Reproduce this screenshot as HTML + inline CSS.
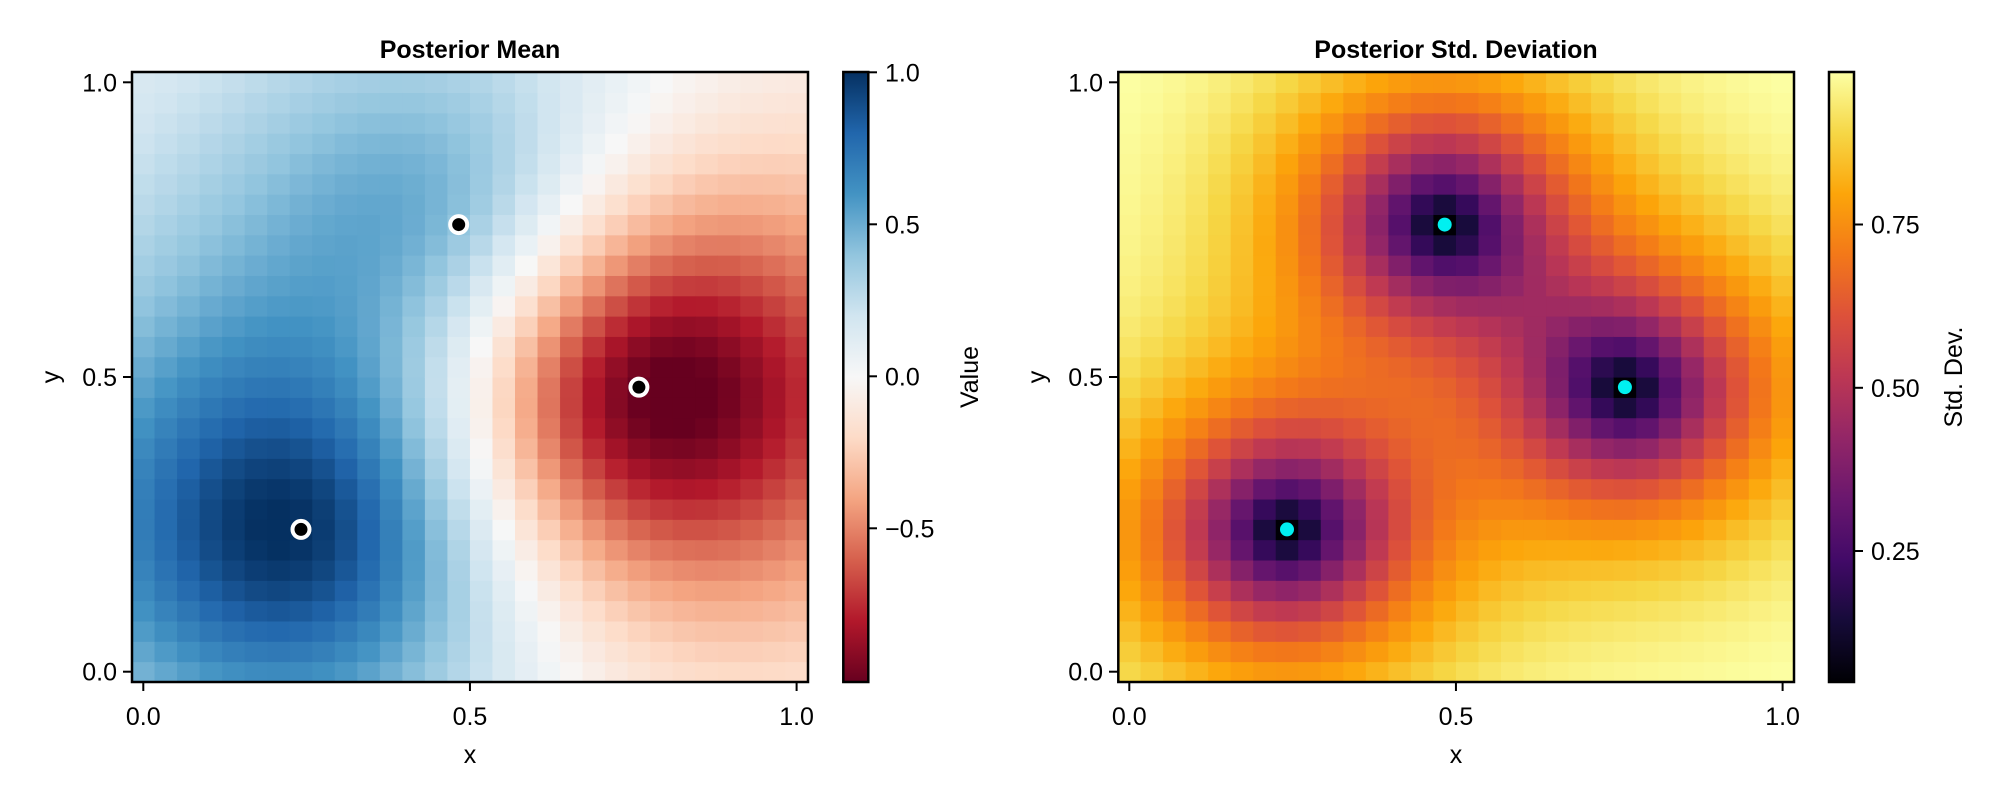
<!DOCTYPE html>
<html><head><meta charset="utf-8"><style>
html,body{margin:0;padding:0;background:#fff;}
svg text{font-family:"Liberation Sans",Arial,sans-serif;fill:#000;}
</style></head><body>
<svg id="s" xmlns="http://www.w3.org/2000/svg" width="2000" height="800" viewBox="0 0 2000 800">
<defs>
<linearGradient id="rdbu" x1="0" y1="1" x2="0" y2="0">
<stop offset="0" stop-color="#67001f"/><stop offset="0.1" stop-color="#b2182b"/><stop offset="0.2" stop-color="#d6604d"/><stop offset="0.3" stop-color="#f4a582"/><stop offset="0.4" stop-color="#fddbc7"/><stop offset="0.5" stop-color="#f7f7f7"/><stop offset="0.6" stop-color="#d1e5f0"/><stop offset="0.7" stop-color="#92c5de"/><stop offset="0.8" stop-color="#4393c3"/><stop offset="0.9" stop-color="#2166ac"/><stop offset="1" stop-color="#053061"/>
</linearGradient>
<linearGradient id="inf" x1="0" y1="1" x2="0" y2="0">
<stop offset="0" stop-color="#000004"/><stop offset="0.1" stop-color="#160b39"/><stop offset="0.2" stop-color="#420a68"/><stop offset="0.3" stop-color="#6a176e"/><stop offset="0.4" stop-color="#932667"/><stop offset="0.5" stop-color="#bc3754"/><stop offset="0.6" stop-color="#dd513a"/><stop offset="0.7" stop-color="#f37819"/><stop offset="0.8" stop-color="#fca50a"/><stop offset="0.9" stop-color="#f6d746"/><stop offset="1" stop-color="#fcffa4"/>
</linearGradient>
</defs>
<g id="cells"></g>
<rect x="843.3" y="72" width="25" height="610" fill="url(#rdbu)" stroke="#000" stroke-width="2.5"/>
<rect x="1829" y="72" width="25" height="610" fill="url(#inf)" stroke="#000" stroke-width="2.5"/>
<text x="470" y="58" font-size="25" font-weight="bold" text-anchor="middle">Posterior Mean</text>
<text x="1456" y="58" font-size="25" font-weight="bold" text-anchor="middle">Posterior Std. Deviation</text>
<text x="470" y="763" font-size="25" text-anchor="middle">x</text>
<text x="1456" y="763" font-size="25" text-anchor="middle">x</text>
<text transform="translate(59,377) rotate(-90)" font-size="25" text-anchor="middle">y</text>
<text transform="translate(1045,377) rotate(-90)" font-size="25" text-anchor="middle">y</text>
<text transform="translate(978,377) rotate(-90)" font-size="25" text-anchor="middle">Value</text>
<text transform="translate(1962,377) rotate(-90)" font-size="25" text-anchor="middle">Std. Dev.</text>
<g id="ticks" stroke="#000" stroke-width="2"></g>
<g id="labels" font-size="25"></g>
</svg>
<script>
(function(){
var NS="http://www.w3.org/2000/svg";
function el(t,a,p){var e=document.createElementNS(NS,t);for(var k in a)e.setAttribute(k,a[k]);(p||document.getElementById('s')).appendChild(e);return e;}
function hex(h){return [parseInt(h.substr(1,2),16),parseInt(h.substr(3,2),16),parseInt(h.substr(5,2),16)];}
var rdbu=["#67001f","#b2182b","#d6604d","#f4a582","#fddbc7","#f7f7f7","#d1e5f0","#92c5de","#4393c3","#2166ac","#053061"].map(hex);
var inf=["#000004","#160b39","#420a68","#6a176e","#932667","#bc3754","#dd513a","#f37819","#fca50a","#f6d746","#fcffa4"].map(hex);
function cmap(c,t){t=Math.max(0,Math.min(1,t));var f=t*10,i=Math.min(9,Math.floor(f)),r=f-i;var a=c[i],b=c[i+1];
return "rgb("+Math.round(a[0]+(b[0]-a[0])*r)+","+Math.round(a[1]+(b[1]-a[1])*r)+","+Math.round(a[2]+(b[2]-a[2])*r)+")";}
var P=[[7/29,7/29],[14/29,22/29],[22/29,14/29]],Y=[1,0.4,-1],l=0.3,sn=0.0025;
function k(a,b){var dx=a[0]-b[0],dy=a[1]-b[1];var s=Math.sqrt(5*(dx*dx+dy*dy))/l;return (1+s+s*s/3)*Math.exp(-s);}
var K=[];for(var i=0;i<3;i++){K[i]=[];for(var j=0;j<3;j++)K[i][j]=k(P[i],P[j])+(i==j?sn:0);}
var a=K,det=a[0][0]*(a[1][1]*a[2][2]-a[1][2]*a[2][1])-a[0][1]*(a[1][0]*a[2][2]-a[1][2]*a[2][0])+a[0][2]*(a[1][0]*a[2][1]-a[1][1]*a[2][0]);
var I=[[ (a[1][1]*a[2][2]-a[1][2]*a[2][1]), -(a[0][1]*a[2][2]-a[0][2]*a[2][1]), (a[0][1]*a[1][2]-a[0][2]*a[1][1])],
[-(a[1][0]*a[2][2]-a[1][2]*a[2][0]), (a[0][0]*a[2][2]-a[0][2]*a[2][0]), -(a[0][0]*a[1][2]-a[0][2]*a[1][0])],
[ (a[1][0]*a[2][1]-a[1][1]*a[2][0]), -(a[0][0]*a[2][1]-a[0][1]*a[2][0]), (a[0][0]*a[1][1]-a[0][1]*a[1][0])]];
for(i=0;i<3;i++)for(j=0;j<3;j++)I[i][j]/=det;
var alpha=[0,0,0];for(i=0;i<3;i++)for(j=0;j<3;j++)alpha[i]+=I[i][j]*Y[j];
var g=document.getElementById('cells');
var sx=653.3,sy=589.4,x0L=143.3,x0R=1129.3,y0=671.7,hw=sx/58,hh=sy/58;
for(var ix=0;ix<30;ix++)for(var iy=0;iy<30;iy++){
 var p=[ix/29,iy/29],kv=[k(p,P[0]),k(p,P[1]),k(p,P[2])];
 var m=0,v=1;for(i=0;i<3;i++){m+=kv[i]*alpha[i];for(j=0;j<3;j++)v-=kv[i]*I[i][j]*kv[j];}
 var sd=Math.sqrt(Math.max(v,0));
 var cy=y0-p[1]*sy;
 el('rect',{x:(x0L+p[0]*sx-hw).toFixed(2),y:(cy-hh).toFixed(2),width:(2*hw+0.6).toFixed(2),height:(2*hh+0.6).toFixed(2),fill:cmap(rdbu,(m+1.006)/2.006)},g);
 el('rect',{x:(x0R+p[0]*sx-hw).toFixed(2),y:(cy-hh).toFixed(2),width:(2*hw+0.6).toFixed(2),height:(2*hh+0.6).toFixed(2),fill:cmap(inf,(sd-0.049)/(0.983-0.049))},g);
}
el('rect',{x:132,y:72,width:676,height:610,fill:"none",stroke:"#000","stroke-width":2.5});
el('rect',{x:1118.3,y:72,width:675.7,height:610,fill:"none",stroke:"#000","stroke-width":2.5});
for(i=0;i<3;i++){
 var mx=P[i][0]*sx,my=y0-P[i][1]*sy;
 el('circle',{cx:x0L+mx,cy:my,r:8.5,fill:"#000",stroke:"#fff","stroke-width":4});
 el('circle',{cx:x0R+mx,cy:my,r:7,fill:"#00f0f0"});
}
var T=document.getElementById('ticks'),L=document.getElementById('labels');
function lab(x,y,s,anc){var t=el('text',{x:x,y:y,"text-anchor":anc},L);t.textContent=s;}
["0.0","0.5","1.0"].forEach(function(s,n){
 [x0L,x0R].forEach(function(x0){var x=x0+n*0.5*sx;el('line',{x1:x,y1:682,x2:x,y2:691},T);lab(x,725,s,"middle");});
 var y=y0-n*0.5*sy;
 el('line',{x1:123,y1:y,x2:132,y2:y},T);lab(117,y+9,s,"end");
 el('line',{x1:1109,y1:y,x2:1118.3,y2:y},T);lab(1103,y+9,s,"end");
});
[[1.0,"1.0"],[0.5,"0.5"],[0,"0.0"],[-0.5,"\u22120.5"]].forEach(function(d){
 var y=72.3+(1-d[0])*304;el('line',{x1:868.3,y1:y,x2:877,y2:y},T);lab(885,y+9,d[1],"start");});
[[0.75,224.5],[0.5,387.8],[0.25,551]].forEach(function(d){
 el('line',{x1:1854,y1:d[1],x2:1863,y2:d[1]},T);lab(1871,d[1]+9,d[0].toFixed(2),"start");});
})();
</script>
</body></html>
